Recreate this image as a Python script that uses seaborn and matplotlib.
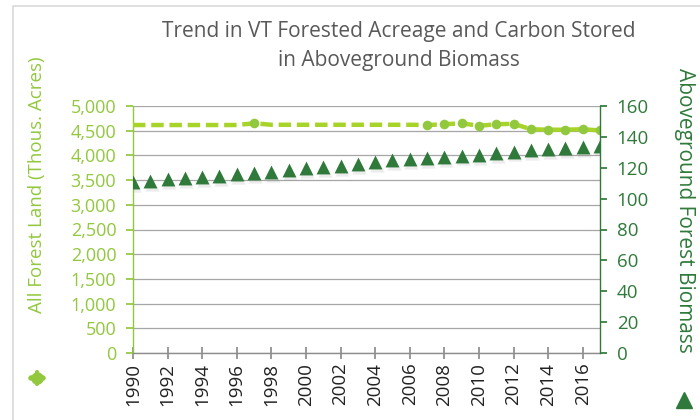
import matplotlib
matplotlib.use('Agg')
import matplotlib.pyplot as plt
import matplotlib.transforms as mtransforms
from matplotlib.lines import Line2D
import pandas as pd
import seaborn as sns

# data
years = list(range(1990, 2018))
forest_land = [4615, 4615, 4615, 4615, 4615, 4615, 4615, 4650,
               4620, 4620, 4620, 4620, 4620, 4620, 4620, 4620, 4620,
               4615, 4630, 4650, 4600, 4630, 4640, 4530, 4520, 4520, 4530, 4505]
forest_marker_years = [1997, 2007, 2008, 2009, 2010, 2011, 2012, 2013, 2014, 2015, 2016, 2017]
biomass = [110.9, 111.4, 112.4, 113.1, 114.0, 114.8, 115.7, 116.5, 117.4, 118.7,
           119.6, 120.6, 121.1, 122.6, 123.5, 124.8, 125.6, 126.3, 127.1, 127.8,
           128.2, 129.5, 130.4, 131.2, 132.1, 132.8, 133.6, 134.3]
xticks = list(range(1990, 2017, 2))
left_ticks = list(range(0, 5001, 500))
right_ticks = list(range(0, 161, 20))

title = 'Trend in VT Forested Acreage and Carbon Stored\nin Aboveground Biomass'
left_label = 'All Forest Land (Thous. Acres)'
right_label = 'Aboveground Forest Biomass'

LIGHT = '#92C83E'
LINE = '#A8D42A'
DARK = '#2F7A3A'
GRID = '#A6A6A6'

df = pd.DataFrame({'year': years, 'forest': forest_land, 'biomass': biomass})

sns.set_theme(style='white')
plt.rcParams['font.family'] = ['Open Sans', 'DejaVu Sans']

fig = plt.figure(figsize=(7, 4.2), dpi=100)
ax = fig.add_axes([133 / 700, 1 - 353 / 420, 467 / 700, 247 / 420])
ax2 = ax.twinx()

# forest land: dashed line, markers only at surveyed years
sns.lineplot(data=df, x='year', y='forest', ax=ax, color=LINE, lw=3.2,
             linestyle=(0, (2.8, 1.3)), zorder=3)
mk = df[df['year'].isin(forest_marker_years)]
sns.scatterplot(data=mk, x='year', y='forest', ax=ax, color=LIGHT, s=48,
                edgecolor=LIGHT, linewidth=0, zorder=4)

# biomass: triangle markers with a soft drop shadow
shift = mtransforms.ScaledTranslation(1 / 72, -2 / 72, fig.dpi_scale_trans)
sns.scatterplot(data=df, x='year', y='biomass', ax=ax2, color='#9a9a9a', marker='^',
                s=105, linewidth=0, alpha=0.18, transform=ax2.transData + shift)
sns.scatterplot(data=df, x='year', y='biomass', ax=ax2, color=DARK, marker='^',
                s=100, linewidth=0)

ax.set_xlim(1990, 2017)
ax.set_ylim(0, 5000)
ax2.set_ylim(0, 160)
ax.set_xticks(xticks)
ax.set_xticklabels([str(y) for y in xticks], rotation=90, fontsize=13.5, color='#222222')
ax.set_yticks(left_ticks)
ax.set_yticklabels([f'{v:,}' for v in left_ticks], fontsize=13, color=LIGHT)
ax2.set_yticks(right_ticks)
ax2.set_yticklabels([str(v) for v in right_ticks], fontsize=13.5, color=DARK)
ax.set_xlabel('')
ax.set_ylabel('')
ax2.set_ylabel('')

ax.yaxis.grid(True, color=GRID, lw=0.9)
ax.set_axisbelow(True)
ax.spines['top'].set_visible(False)
ax.spines['right'].set_visible(False)
ax2.spines['top'].set_visible(False)
ax2.spines['left'].set_visible(False)
ax2.spines['bottom'].set_visible(False)
ax.spines['left'].set_color(LIGHT)
ax.spines['bottom'].set_color('#8c8c8c')
ax2.spines['right'].set_color(DARK)
for sp in [ax.spines['left'], ax.spines['bottom'], ax2.spines['right']]:
    sp.set_linewidth(1.0)

ax.tick_params(axis='x', direction='inout', length=8, color='#8c8c8c', pad=3, bottom=True)
ax.tick_params(axis='y', direction='out', length=5, color=LIGHT, pad=7, left=True)
ax2.tick_params(axis='y', direction='out', length=5, color=DARK, pad=7, right=True)

fig.text(399 / 700, 1 - 46 / 420, title, ha='center', va='center', fontsize=15,
         color='#595959', linespacing=1.5)
fig.text(37 / 700, 1 - 185 / 420, left_label, rotation=90, ha='center', va='center',
         fontsize=13.5, color=LIGHT)
fig.text(684 / 700, 1 - 210 / 420, right_label, rotation=270, ha='center', va='center',
         fontsize=15, color=DARK)

# rotated legend keys next to the axis titles
fig.add_artist(Line2D([31 / 700, 43 / 700], [1 - 378 / 420] * 2, transform=fig.transFigure,
                      color=LIGHT, lw=4))
fig.add_artist(Line2D([37 / 700, 37 / 700], [1 - 372 / 420, 1 - 384 / 420],
                      transform=fig.transFigure, color=LIGHT, lw=3))
fig.add_artist(Line2D([37 / 700], [1 - 378 / 420], transform=fig.transFigure,
                      color=LIGHT, lw=0, marker='o', markersize=8))
fig.add_artist(Line2D([684 / 700], [1 - 400 / 420], transform=fig.transFigure,
                      color=DARK, lw=0, marker='^', markersize=11))

# chart frame (left and top edges visible)
fig.add_artist(Line2D([13 / 700, 13 / 700, 1.0], [0.0, 1 - 6 / 420, 1 - 6 / 420],
                      transform=fig.transFigure, color='#d9d9d9', lw=1.2))

fig.savefig('out.png', dpi=100)
